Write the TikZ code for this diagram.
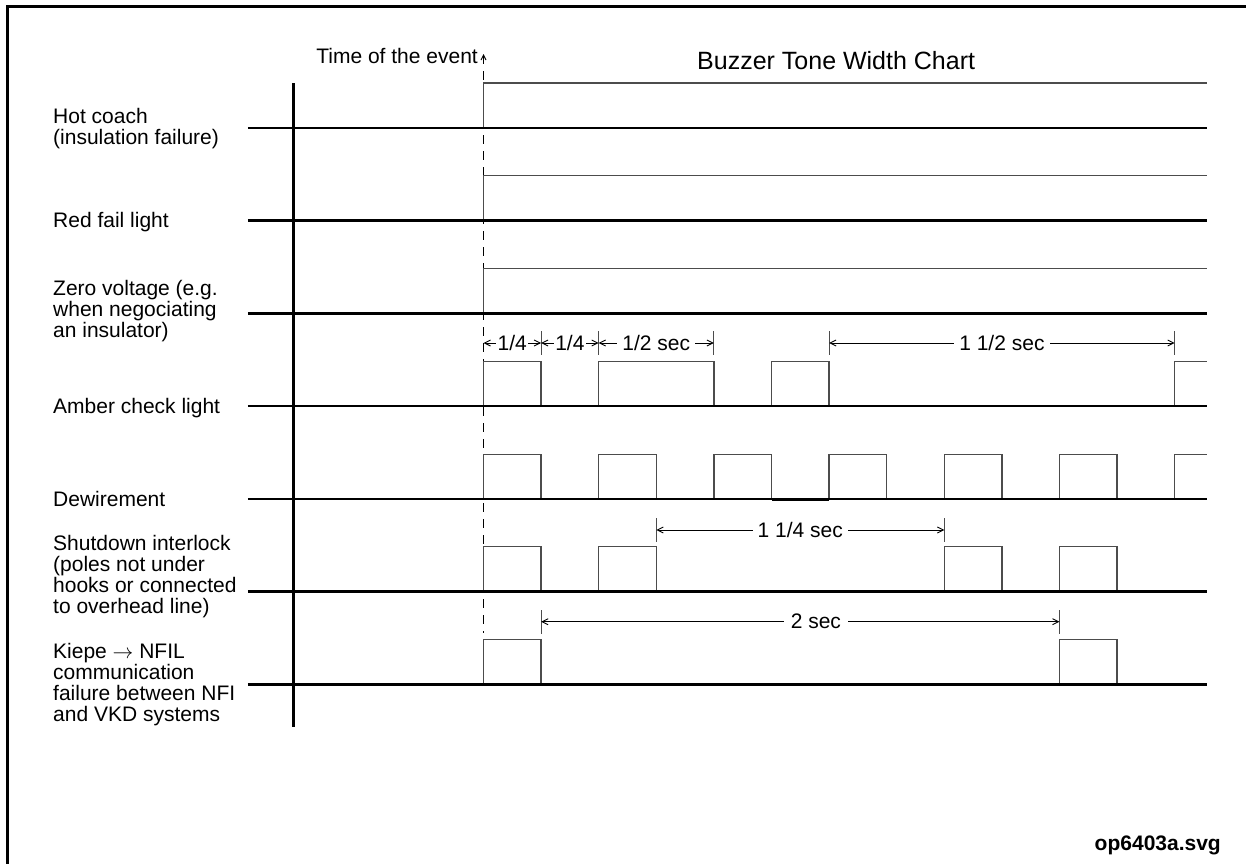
\documentclass[tikz,border=0pt]{standalone}
\usepackage{fontspec}
\setmainfont{Liberation Sans}
\usetikzlibrary{arrows.meta}

\begin{document}
\begin{tikzpicture}[x=1pt,y=-1pt,
        base/.style={line width=2.8pt},
        sig/.style={line width=1.3pt,black!70},
        tick/.style={line width=1pt,black!70},
        dim/.style={line width=0.9pt,{Straight Barb[length=6pt,width=6pt]}-{Straight Barb[length=6pt,width=6pt]}},
        dimtext/.style={fill=white,inner sep=5pt,font=\fontsize{21}{21}\selectfont},
        lbl/.style={anchor=north west,align=left,inner sep=0pt,font=\fontsize{21}{21}\selectfont}]
        \useasboundingbox[fill=white] (0,0) rectangle (1246,863);
        \def\tzero{483.5}
        \def\qsec{57.6}
        \draw[line width=3pt] (7.3,6.3) rectangle (1262,880);
        % headings
        \node[anchor=base west,inner sep=0pt,font=\fontsize{25}{25}\selectfont] (title) at (697,69) {Buzzer Tone Width Chart};
        \node[anchor=base east,inner sep=0pt,font=\fontsize{21}{21}\selectfont] (event) at (478,63) {Time of the event};
        \node[anchor=base east,inner sep=0pt,font=\bfseries\fontsize{21}{21}\selectfont] (fname) at (1221,850) {op6403a.svg};
        % row labels
        \node[lbl] (hot) at (53,107.7) {Hot coach\\(insulation failure)};
        \node[lbl] (red) at (53,212.5) {Red fail light};
        \node[lbl] (zero) at (53,280) {Zero voltage (e.g.\\when negociating\\an insulator)};
        \node[lbl] (amber) at (53,398) {Amber check light};
        \node[lbl] (dew) at (53,491) {Dewirement};
        \node[lbl] (shut) at (53,535) {Shutdown interlock\\(poles not under\\hooks or connected\\to overhead line)};
        \node[lbl] (kiepe) at (53,643.3) {Kiepe $\rightarrow$ NFIL\\communication\\failure between NFI\\and VKD systems};
        % axis and event line
        \draw[line width=2.6pt] (293.7,83) -- (293.7,726.7);
        \coordinate (ev) at (\tzero,54);
        \coordinate (evb) at (\tzero,633);
        \draw[line width=0.9pt,dash pattern=on 9pt off 7pt,{Straight Barb[length=5pt,width=5pt]}-] (ev) -- (evb);
        % signals
        \draw[sig] (\tzero,128) |- (1207,83);
        \draw[sig] (\tzero,220.7) |- (1207,175.7);
        \draw[sig] (\tzero,313.3) |- (1207,268.3);
        \foreach \a/\b in {0/1,2/4,5/6}
            \draw[sig] ({\tzero+\a*\qsec},406) -- ++(0,-44.5) -- ({\tzero+\b*\qsec},361.5) -- ++(0,44.5);
        \draw[sig] ({\tzero+12*\qsec},406) |- (1207,361.5);
        \foreach \a in {0,2,...,10}
            \draw[sig] ({\tzero+\a*\qsec},499) -- ++(0,-44.5) -- ++(\qsec,0) -- ++(0,44.5);
        \draw[sig] ({\tzero+12*\qsec},499) |- (1207,454.5);
        \foreach \a in {0,2,8,10}
            \draw[sig] ({\tzero+\a*\qsec},591.3) -- ++(0,-44.5) -- ++(\qsec,0) -- ++(0,44.5);
        \foreach \a in {0,10}
            \draw[sig] ({\tzero+\a*\qsec},684.3) -- ++(0,-45) -- ++(\qsec,0) -- ++(0,45);
        \foreach \y in {128,220.7,313.3,406,499,591.3,684.3}
            \draw[base] (247.8,\y) -- (1207,\y);
        \draw[line width=3.6pt] ({\tzero+5*\qsec},499.6) -- ({\tzero+6*\qsec},499.6);
        % durations
        \foreach \k in {1,2,4,6,12}
            \draw[tick] ({\tzero+\k*\qsec},331) -- ++(0,24);
        \draw[dim] (\tzero,343) -- node[dimtext,inner sep=1.5pt] (q1) {1/4} ({\tzero+\qsec},343);
        \draw[dim] ({\tzero+\qsec},343) -- node[dimtext,inner sep=1.5pt] (q2) {1/4} ({\tzero+2*\qsec},343);
        \draw[dim] ({\tzero+2*\qsec},343) -- node[dimtext] (half) {1/2 sec} ({\tzero+4*\qsec},343);
        \draw[dim] ({\tzero+6*\qsec},343) -- node[dimtext] (onehalf) {1 1/2 sec} ({\tzero+12*\qsec},343);
        \foreach \k in {3,8}
            \draw[tick] ({\tzero+\k*\qsec},518) -- ++(0,24);
        \draw[dim] ({\tzero+3*\qsec},530) -- node[dimtext] (onequarter) {1 1/4 sec} ({\tzero+8*\qsec},530);
        \foreach \k in {1,10}
            \draw[tick] ({\tzero+\k*\qsec},610) -- ++(0,24);
        \draw[dim] ({\tzero+\qsec},621.7) -- node[dimtext,pos=0.53,inner sep=7pt] (two) {2 sec} ({\tzero+10*\qsec},621.7);
    \end{tikzpicture}
\end{document}
